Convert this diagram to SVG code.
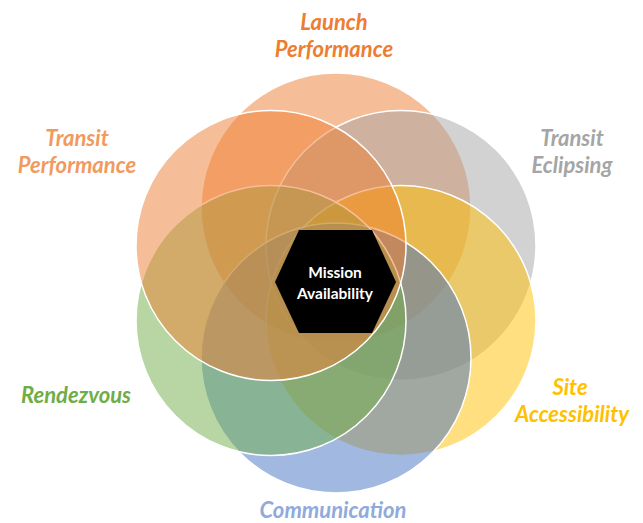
<svg xmlns="http://www.w3.org/2000/svg" width="643" height="523" viewBox="0 0 643 523">
<style>
.c{stroke:#FFFFFF;stroke-width:1.5;fill-opacity:0.5}
.lbl{font-family:Lato,"Liberation Sans",sans-serif;font-weight:bold;font-style:italic;font-size:22px;text-anchor:middle}
.hx{font-family:Lato,"Liberation Sans",sans-serif;font-weight:bold;font-size:15.5px;fill:#FFFFFF;text-anchor:middle}
</style>
<rect width="643" height="523" fill="#FFFFFF"/>
<g id="launch-performance">
<circle class="c" cx="336" cy="208" r="135" fill="#ED7D31"/>
</g>
<g id="transit-eclipsing">
<circle class="c" cx="401" cy="245.5" r="135" fill="#A5A5A5"/>
</g>
<g id="site-accessibility">
<circle class="c" cx="401" cy="320.5" r="135" fill="#FFC000"/>
</g>
<g id="communication">
<circle class="c" cx="336" cy="358" r="135" fill="#4472C4"/>
</g>
<g id="rendezvous">
<circle class="c" cx="271" cy="320.5" r="135" fill="#70AD47"/>
</g>
<g id="transit-performance">
<circle class="c" cx="271" cy="245.5" r="135" fill="#ED7D31"/>
</g>
<g id="mission-availability">
<polygon points="275,282 299,230 372,230 396,282 372,333 299,333" fill="#000000"/>
<text class="hx" x="335" y="278">Mission</text>
<text class="hx" x="335" y="299">Availability</text>
</g>
<g id="labels">
<text class="lbl" x="334" y="30" fill="#ED7D31">Launch</text>
<text class="lbl" x="334" y="57" fill="#ED7D31">Performance</text>
<text class="lbl" x="77" y="146" fill="#F19A5E">Transit</text>
<text class="lbl" x="77" y="173" fill="#F19A5E">Performance</text>
<text class="lbl" x="572" y="146" fill="#A5A5A5">Transit</text>
<text class="lbl" x="572" y="173" fill="#A5A5A5">Eclipsing</text>
<text class="lbl" x="76" y="403" fill="#70AD47">Rendezvous</text>
<text class="lbl" x="570" y="395" fill="#FFC000">Site</text>
<text class="lbl" x="572" y="422" fill="#FFC000">Accessibility</text>
<text class="lbl" x="333" y="518" fill="#8FAADC">Communication</text>
</g>
<g id="connectors"/>
</svg>
